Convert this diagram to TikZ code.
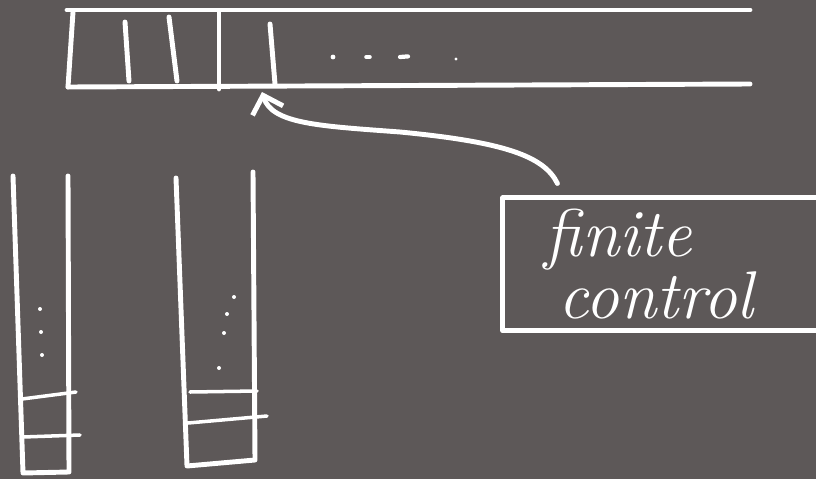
\documentclass[tikz,border=0pt]{standalone}
\usepackage{xcolor}
\usepackage{tikz}
\usetikzlibrary{arrows.meta}
\definecolor{board}{HTML}{5D5858}
\definecolor{chalk}{HTML}{FFFFFF}

\begin{document}
\begin{tikzpicture}[line width=3.5pt, line cap=round, line join=round, every node/.style={font=\fontsize{48}{40}\selectfont\itshape}]
  \fill[board] (0,0) rectangle (20.4,-11.975);
  \useasboundingbox (0,0) rectangle (20.4,-11.975);
  \clip (0,0) rectangle (20.4,-11.975);

  % tape
  \draw[chalk] (1.675,-0.25) -- (18.75,-0.25);
  \draw[chalk] (1.7,-2.175) -- (18.75,-2.1);
  \draw[chalk] (1.825,-0.3) -- (1.7,-2.175);
  \draw[chalk] (3.125,-0.55) -- (3.225,-2.025);
  \draw[chalk] (4.225,-0.425) -- (4.425,-2.025);
  \draw[chalk] (5.475,-0.3) -- (5.475,-2.225);
  \draw[chalk] (6.75,-0.6) -- (6.875,-2.1);
  \fill[chalk] (8.325,-1.425) circle (0.06);
  \draw[chalk, line width=2.5pt] (9.15,-1.425) -- (9.25,-1.425);
  \draw[chalk, line width=3pt] (10,-1.425) -- (10.2,-1.41);
  \fill[chalk] (11.4,-1.475) circle (0.04);

  % finite control
  \node (ctrl) at (16.66,-6.61) [draw, chalk, minimum height=3.325cm, inner xsep=1.05cm, text width=6.075cm, align=left] {finite\\\hspace*{0.35cm}control};
  \coordinate (head) at (6.55,-2.3);
  \draw[chalk, -{Straight Barb[length=4mm, width=8mm]}] ([xshift=1.425cm, yshift=0.3cm]ctrl.north west) .. controls (13.6,-3.9) and (12.6,-3.55) .. (10,-3.3) .. controls (8,-3.15) and (6.8,-3.1) .. (head);

  % stack 1
  \draw[chalk] (0.325,-4.4) -- (0.575,-11.825) -- (1.725,-11.8) -- (1.7,-4.4);
  \draw[chalk, line width=2.5pt] (0.55,-9.975) -- (1.9,-9.8);
  \draw[chalk, line width=2.5pt] (0.575,-10.925) -- (2,-10.875);
  \foreach \y/\x in {7.725/1, 8.3/1.025, 8.875/1.05}
    \fill[chalk] (\x,-\y) circle (0.05);

  % stack 2
  \draw[chalk] (4.4,-4.45) -- (4.675,-11.65) -- (6.375,-11.5) -- (6.325,-4.3);
  \draw[chalk, line width=2.5pt] (4.75,-9.8) -- (6.425,-9.775);
  \draw[chalk, line width=2.5pt] (4.7,-10.575) -- (6.675,-10.4);
  \foreach \y/\x in {7.425/5.85, 7.85/5.675, 8.325/5.6, 9.2/5.475}
    \fill[chalk] (\x,-\y) circle (0.05);
\end{tikzpicture}
\end{document}
